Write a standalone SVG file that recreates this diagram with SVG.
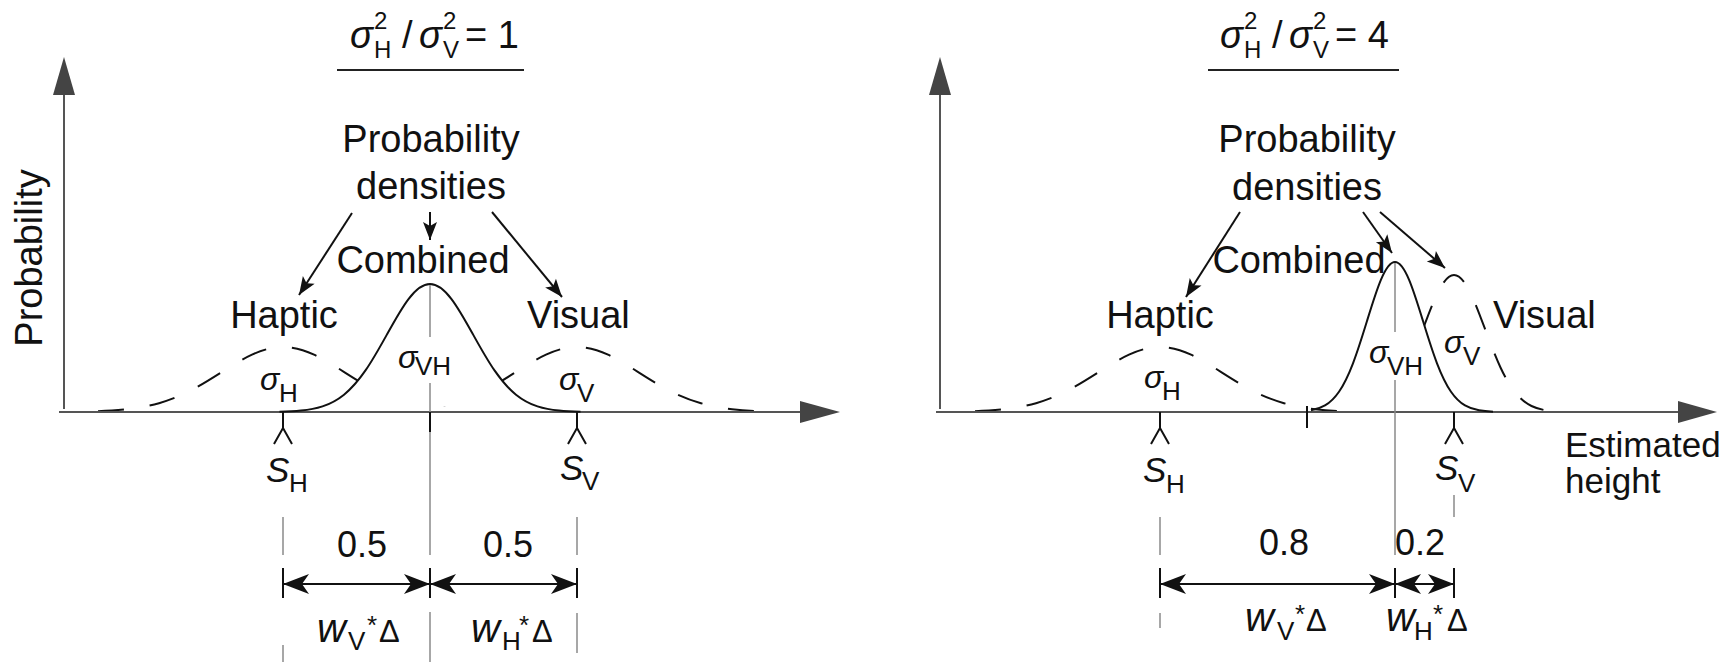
<svg xmlns="http://www.w3.org/2000/svg" width="1734" height="662" viewBox="0 0 1734 662">
<style>
.t{font-family:"Liberation Sans",Arial,Helvetica,sans-serif;fill:#111}
.lab{font-size:38px}
.num{font-size:36px}
.it{font-style:italic}
.axis{stroke:#555;stroke-width:2;fill:none}
.ahd{fill:#444}
.curve{stroke:#111;stroke-width:2;fill:none}
.dash{stroke:#111;stroke-width:2;fill:none;stroke-dasharray:26 26}
.occ{fill:#fff;stroke:none}
.guide{stroke:#8a8a8a;stroke-width:1.5;fill:none}
.tick{stroke:#111;stroke-width:2;fill:none}
.ptr{stroke:#111;stroke-width:2;fill:none;marker-end:url(#ah)}
.dim{stroke:#111;stroke-width:2;fill:none;marker-start:url(#dh);marker-end:url(#dh)}
.uline{stroke:#222;stroke-width:2}
</style>
<defs>
<marker id="ah" markerUnits="userSpaceOnUse" markerWidth="20" markerHeight="16" refX="18" refY="7" orient="auto" overflow="visible">
<path d="M0,0 L18,7 L0,14 L4,7 Z" fill="#111"/>
</marker>
<marker id="dh" markerUnits="userSpaceOnUse" markerWidth="28" markerHeight="22" refX="26" refY="10" orient="auto-start-reverse" overflow="visible">
<path d="M0,0 L26,10 L0,20 L7,10 Z" fill="#111"/>
</marker>
<path id="gw" d="M-192,-0.5 L-186,-0.72 C-175.67,-1.09 -165.33,-1.66 -155,-2.85 C-144.67,-4.04 -134.33,-5.86 -124,-8.79 C-113.67,-11.73 -103.33,-15.83 -93,-21.11 C-82.67,-26.38 -72.33,-32.85 -62,-39.42 C-51.67,-45.99 -41.33,-52.59 -31,-57.36 C-20.67,-62.14 -10.33,-65 0,-65 C10.33,-65 20.67,-62.14 31,-57.36 C41.33,-52.59 51.67,-45.99 62,-39.42 C72.33,-32.85 82.67,-26.38 93,-21.11 C103.33,-15.83 113.67,-11.73 124,-8.79 C134.33,-5.86 144.67,-4.04 155,-2.85 C165.33,-1.66 175.67,-1.09 186,-0.72 L192,-0.5"/>
<clipPath id="clipLH"><rect x="0" y="0" width="420" height="662"/></clipPath>
<clipPath id="clipLV"><rect x="440" y="0" width="420" height="662"/></clipPath>
</defs>
<rect width="1734" height="662" fill="#fff"/>

<!-- ===== LEFT PANEL ===== -->
<g id="left-haptic-curve" clip-path="url(#clipLH)">
<use href="#gw" transform="translate(283,412)" class="dash" style="stroke-dashoffset:45"/>
</g>
<g id="left-visual-curve" clip-path="url(#clipLV)">
<use href="#gw" transform="translate(577,412)" class="dash" style="stroke-dashoffset:45"/>
</g>
<g id="left-combined-curve">
<path class="occ" d="M322.5,406.38 C329.67,404.04 336.83,400.45 344,394.68 C351.17,388.91 358.33,380.83 365.5,370.44 C372.67,360.04 379.83,347.31 387,334.37 C394.17,321.43 401.33,308.45 408.5,299.04 C415.67,289.63 422.83,284 430,284 C437.17,284 444.33,289.63 451.5,299.04 C458.67,308.45 465.83,321.43 473,334.37 C480.17,347.31 487.33,360.04 494.5,370.44 C501.67,380.83 508.83,388.91 516,394.68 C523.17,400.45 530.33,404.04 537.5,406.38 Z"/>
</g>
<g id="left-axes">
<line class="axis" x1="64" y1="94" x2="64" y2="409"/>
<polygon class="ahd" points="64,57 53,95 75,95"/>
<line class="axis" x1="59" y1="412" x2="802" y2="412"/>
<polygon class="ahd" points="840,412 800,401 800,423"/>
<text class="t lab" transform="translate(42,258) rotate(-90)" text-anchor="middle">Probability</text>
</g>
<g id="left-combined">
<path class="curve" d="M279.5,411.72 C286.67,411.55 293.83,411.3 301,410.58 C308.17,409.86 315.33,408.72 322.5,406.38 C329.67,404.04 336.83,400.45 344,394.68 C351.17,388.91 358.33,380.83 365.5,370.44 C372.67,360.04 379.83,347.31 387,334.37 C394.17,321.43 401.33,308.45 408.5,299.04 C415.67,289.63 422.83,284 430,284 C437.17,284 444.33,289.63 451.5,299.04 C458.67,308.45 465.83,321.43 473,334.37 C480.17,347.31 487.33,360.04 494.5,370.44 C501.67,380.83 508.83,388.91 516,394.68 C523.17,400.45 530.33,404.04 537.5,406.38 C544.67,408.72 551.83,409.86 559,410.58 C566.17,411.3 573.33,411.55 580.5,411.72"/>
<line class="guide" x1="430" y1="285" x2="430" y2="337"/>
<line class="guide" x1="430" y1="383" x2="430" y2="555"/>
<line class="guide" x1="430" y1="612" x2="430" y2="662"/>
<line class="tick" x1="430" y1="412" x2="430" y2="432"/>
<text class="t lab" x="423" y="273" text-anchor="middle">Combined</text>
<text class="t it" x="398" y="368" font-size="32">σ</text>
<text class="t" x="415" y="375" font-size="26">VH</text>
</g>
<g id="left-title">
<text class="t it" x="350" y="48" font-size="38">σ</text>
<text class="t" x="374" y="29" font-size="24">2</text>
<text class="t" x="374" y="58" font-size="24">H</text>
<text class="t" x="402" y="48" font-size="38">/</text>
<text class="t it" x="419" y="48" font-size="38">σ</text>
<text class="t" x="443" y="29" font-size="24">2</text>
<text class="t" x="443" y="58" font-size="24">V</text>
<text class="t" x="465" y="48" font-size="38">= 1</text>
<line class="uline" x1="337" y1="70" x2="524" y2="70"/>
</g>
<g id="left-densities">
<text class="t lab" x="431" y="152" text-anchor="middle">Probability</text>
<text class="t lab" x="431" y="199" text-anchor="middle">densities</text>
</g>
<g id="left-haptic">
<text class="t lab" x="284" y="328" text-anchor="middle">Haptic</text>
<text class="t it" x="260" y="390" font-size="32">σ</text>
<text class="t" x="279" y="402" font-size="26">H</text>
</g>
<g id="left-visual">
<text class="t lab" x="527" y="328">Visual</text>
<text class="t it" x="559" y="390" font-size="32">σ</text>
<text class="t" x="577" y="402" font-size="26">V</text>
</g>
<g id="left-estimate-h">
<line class="tick" x1="283" y1="412" x2="283" y2="429"/>
<polyline class="tick" points="274,444 283,428 292,444"/>
<text class="t it" x="266" y="482" font-size="35">S</text>
<text class="t" x="289" y="492" font-size="26">H</text>
<line class="guide" x1="283" y1="517" x2="283" y2="555"/>
<line class="guide" x1="283" y1="645" x2="283" y2="662"/>
</g>
<g id="left-estimate-v">
<line class="tick" x1="577" y1="412" x2="577" y2="429"/>
<polyline class="tick" points="568,444 577,428 586,444"/>
<text class="t it" x="560" y="480" font-size="35">S</text>
<text class="t" x="582" y="490" font-size="26">V</text>
<line class="guide" x1="577" y1="517" x2="577" y2="555"/>
<line class="guide" x1="577" y1="613" x2="577" y2="653"/>
</g>
<g id="left-weights">
<text class="t num" x="362" y="557" text-anchor="middle">0.5</text>
<text class="t num" x="508" y="557" text-anchor="middle">0.5</text>
<line class="tick" x1="283" y1="568" x2="283" y2="598"/>
<line class="tick" x1="430" y1="568" x2="430" y2="598"/>
<line class="tick" x1="577" y1="568" x2="577" y2="598"/>
<line class="dim" x1="283" y1="584" x2="430" y2="584"/>
<line class="dim" x1="430" y1="584" x2="577" y2="584"/>
<text class="t it" x="317" y="642" font-size="40">w</text>
<text class="t" x="348" y="650" font-size="26">V</text>
<text class="t" x="367" y="634" font-size="26">*</text>
<text class="t" x="379" y="642" font-size="31">Δ</text>
<text class="t it" x="471" y="642" font-size="40">w</text>
<text class="t" x="502" y="650" font-size="26">H</text>
<text class="t" x="519" y="634" font-size="26">*</text>
<text class="t" x="532" y="642" font-size="31">Δ</text>
</g>

<!-- ===== RIGHT PANEL ===== -->
<g id="right-haptic-curve">
<use href="#gw" transform="translate(1160,412)" class="dash" style="stroke-dashoffset:45"/>
</g>
<g id="right-visual-curve">
<path class="dash" style="stroke-dashoffset:11.7" d="M1407.5,367.52 C1412.67,356.39 1417.83,342.76 1423,328.91 C1428.17,315.06 1433.33,301.17 1438.5,291.1 C1443.67,281.03 1448.83,275 1454,275 C1459.17,275 1464.33,281.03 1469.5,291.1 C1474.67,301.17 1479.83,315.06 1485,328.91 C1490.17,342.76 1495.33,356.39 1500.5,367.52 C1505.67,378.64 1510.83,387.29 1516,393.46 C1521.17,399.64 1526.33,403.48 1531.5,405.99 C1536.67,408.49 1541.83,409.71 1547,410.48"/>
</g>
<g id="right-combined-curve">
<path class="occ" d="M1325,405.41 C1329.67,402.67 1334.33,398.47 1339,391.7 C1343.67,384.94 1348.33,375.47 1353,363.29 C1357.67,351.11 1362.33,336.19 1367,321.02 C1371.67,305.86 1376.33,290.65 1381,279.62 C1385.67,268.6 1390.33,262 1395,262 C1399.67,262 1404.33,268.6 1409,279.62 C1413.67,290.65 1418.33,305.86 1423,321.02 C1427.67,336.19 1432.33,351.11 1437,363.29 C1441.67,375.47 1446.33,384.94 1451,391.7 C1455.67,398.47 1460.33,402.67 1465,405.41 Z"/>
</g>
<g id="right-axes">
<line class="axis" x1="940" y1="94" x2="940" y2="409"/>
<polygon class="ahd" points="940,57 929,95 951,95"/>
<line class="axis" x1="936" y1="412" x2="1680" y2="412"/>
<polygon class="ahd" points="1717,412 1678,401 1678,423"/>
<text class="t" x="1565" y="457" font-size="35">Estimated</text>
<text class="t" x="1565" y="493" font-size="35">height</text>
</g>
<g id="right-combined">
<path class="curve" d="M1311,410.33 C1315.67,409.49 1320.33,408.16 1325,405.41 C1329.67,402.67 1334.33,398.47 1339,391.7 C1343.67,384.94 1348.33,375.47 1353,363.29 C1357.67,351.11 1362.33,336.19 1367,321.02 C1371.67,305.86 1376.33,290.65 1381,279.62 C1385.67,268.6 1390.33,262 1395,262 C1399.67,262 1404.33,268.6 1409,279.62 C1413.67,290.65 1418.33,305.86 1423,321.02 C1427.67,336.19 1432.33,351.11 1437,363.29 C1441.67,375.47 1446.33,384.94 1451,391.7 C1455.67,398.47 1460.33,402.67 1465,405.41 C1469.67,408.16 1474.33,409.49 1479,410.33 C1483.67,411.17 1488.33,411.47 1493,411.67"/>
<line class="tick" x1="1307" y1="406" x2="1307" y2="428"/>
<line class="guide" x1="1395" y1="263" x2="1395" y2="332"/>
<line class="guide" x1="1395" y1="380" x2="1395" y2="555"/>
<text class="t lab" x="1299" y="273" text-anchor="middle">Combined</text>
<text class="t it" x="1369" y="363" font-size="32">σ</text>
<text class="t" x="1387" y="375" font-size="26">VH</text>
</g>
<g id="right-title">
<text class="t it" x="1220" y="48" font-size="38">σ</text>
<text class="t" x="1244" y="29" font-size="24">2</text>
<text class="t" x="1244" y="58" font-size="24">H</text>
<text class="t" x="1272" y="48" font-size="38">/</text>
<text class="t it" x="1289" y="48" font-size="38">σ</text>
<text class="t" x="1313" y="29" font-size="24">2</text>
<text class="t" x="1313" y="58" font-size="24">V</text>
<text class="t" x="1335" y="48" font-size="38">= 4</text>
<line class="uline" x1="1208" y1="70" x2="1399" y2="70"/>
</g>
<g id="right-densities">
<text class="t lab" x="1307" y="152" text-anchor="middle">Probability</text>
<text class="t lab" x="1307" y="200" text-anchor="middle">densities</text>
</g>
<g id="right-haptic">
<text class="t lab" x="1160" y="328" text-anchor="middle">Haptic</text>
<text class="t it" x="1144" y="388" font-size="32">σ</text>
<text class="t" x="1162" y="400" font-size="26">H</text>
</g>
<g id="right-visual">
<text class="t lab" x="1493" y="328">Visual</text>
<text class="t it" x="1444" y="353" font-size="32">σ</text>
<text class="t" x="1463" y="365" font-size="26">V</text>
</g>
<g id="right-estimate-h">
<line class="tick" x1="1160" y1="412" x2="1160" y2="429"/>
<polyline class="tick" points="1151,444 1160,428 1169,444"/>
<text class="t it" x="1143" y="482" font-size="35">S</text>
<text class="t" x="1166" y="493" font-size="26">H</text>
<line class="guide" x1="1160" y1="517" x2="1160" y2="555"/>
<line class="guide" x1="1160" y1="613" x2="1160" y2="628"/>
</g>
<g id="right-estimate-v">
<line class="tick" x1="1454" y1="412" x2="1454" y2="429"/>
<polyline class="tick" points="1445,444 1454,428 1463,444"/>
<text class="t it" x="1435" y="480" font-size="35">S</text>
<text class="t" x="1458" y="492" font-size="26">V</text>
<line class="guide" x1="1454" y1="495" x2="1454" y2="517"/>
</g>
<g id="right-weights">
<text class="t num" x="1284" y="555" text-anchor="middle">0.8</text>
<text class="t num" x="1420" y="555" text-anchor="middle">0.2</text>
<line class="tick" x1="1160" y1="568" x2="1160" y2="598"/>
<line class="tick" x1="1395" y1="568" x2="1395" y2="598"/>
<line class="tick" x1="1454" y1="568" x2="1454" y2="598"/>
<line class="dim" x1="1160" y1="584" x2="1395" y2="584"/>
<line class="dim" x1="1395" y1="584" x2="1454" y2="584"/>
<text class="t it" x="1245" y="631" font-size="40">w</text>
<text class="t" x="1277" y="640" font-size="26">V</text>
<text class="t" x="1295" y="623" font-size="26">*</text>
<text class="t" x="1306" y="631" font-size="31">Δ</text>
<text class="t it" x="1386" y="631" font-size="40">w</text>
<text class="t" x="1414" y="640" font-size="26">H</text>
<text class="t" x="1433" y="623" font-size="26">*</text>
<text class="t" x="1447" y="631" font-size="31">Δ</text>
</g>

<g id="connectors">
<line class="ptr" x1="352" y1="213" x2="299" y2="295"/>
<line class="ptr" x1="430" y1="212" x2="430" y2="240"/>
<line class="ptr" x1="492" y1="212" x2="562" y2="297"/>
<line class="ptr" x1="1240" y1="212" x2="1186" y2="297"/>
<line class="ptr" x1="1363" y1="212" x2="1392" y2="253"/>
<line class="ptr" x1="1380" y1="212" x2="1445" y2="268"/>
</g>
</svg>
